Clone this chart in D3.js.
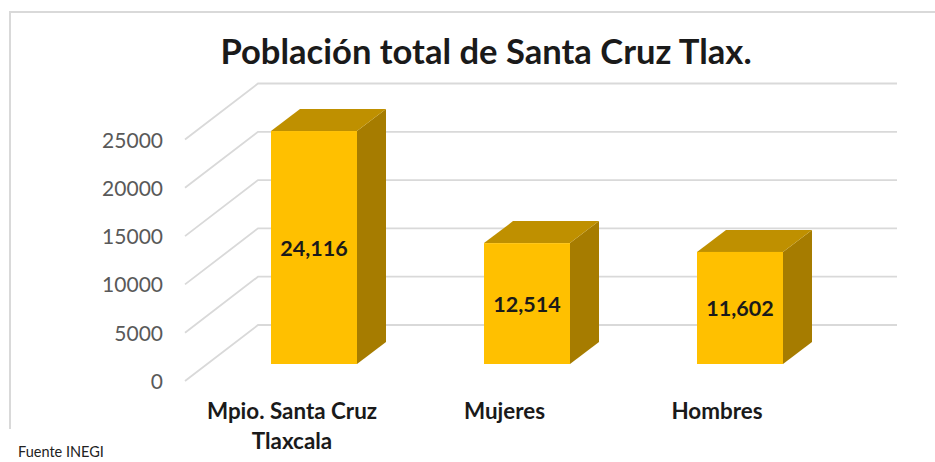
<!DOCTYPE html>
<html><head><meta charset="utf-8">
<script src="https://cdn.jsdelivr.net/npm/d3@7"></script>
<style>html,body{margin:0;padding:0;background:#fff}svg{display:block}text{font-family:Lato,"Open Sans",sans-serif}</style>
</head><body><svg id="c" width="935" height="462"></svg>
<script>
const categories = [["Mpio. Santa Cruz","Tlaxcala"],["Mujeres"],["Hombres"]];
const values = [24116,12514,11602];
const valueLabels = ["24,116","12,514","11,602"];
const ticks = [0,5000,10000,15000,20000,25000];
const titleText = "Población total de Santa Cruz Tlax.";
const sourceText = "Fuente INEGI";

const svg = d3.select("#c");
const depth = {x:73,y:-56}, frontBase = 381, left = 185, right = 824;
const y = d3.scaleLinear().domain([0,25000]).range([frontBase,frontBase-241.5]);
const x = d3.scaleBand().domain(d3.range(categories.length)).range([left,right]);
const barW = 86, barOff = {x:22.5,y:-17}, barD = {x:29,y:-22};
const grid = "#d9d9d9";

svg.append("path").attr("d","M10,429V12H935").attr("fill","none").attr("stroke",grid).attr("stroke-width",2);

const g = svg.append("g").attr("fill","none").attr("stroke",grid).attr("stroke-width",1.8);
ticks.forEach(t=>{
  const py=y(t);
  g.append("path").attr("d",`M${left},${py}L${left+depth.x},${py+depth.y}H${right+depth.x}`);
});

svg.append("g").selectAll("text").data(ticks).join("text")
  .attr("x",163).attr("y",d=>y(d)+8).attr("text-anchor","end")
  .attr("font-size",21).attr("fill","#595959").text(d=>d);

values.forEach((v,i)=>{
  const cx=x(i)+x.bandwidth()/2+barOff.x;
  const x0=cx-barW/2, x1=cx+barW/2;
  const yb=y(0)+barOff.y, yt=y(v)+barOff.y;
  svg.append("path").attr("fill","#a67c00").attr("d",`M${x1},${yb}V${yt}l${barD.x},${barD.y}V${yb+barD.y}Z`);
  svg.append("path").attr("fill","#bf9000").attr("d",`M${x0},${yt}H${x1}l${barD.x},${barD.y}H${x0+barD.x}Z`);
  svg.append("rect").attr("x",x0).attr("y",yt).attr("width",barW).attr("height",yb-yt).attr("fill","#ffc000");
  svg.append("text").attr("x",cx).attr("y",(yt+yb)/2+8).attr("text-anchor","middle")
    .attr("font-size",21.5).attr("font-weight",700).attr("fill","#1a1a1a").text(valueLabels[i]);
});

const labelX=[292,504.5,717];
categories.forEach((lines,i)=>{
  lines.forEach((l,j)=>{
    svg.append("text").attr("x",labelX[i]).attr("y",419+j*30).attr("text-anchor","middle")
      .attr("font-size",22.4).attr("font-weight",700).attr("fill","#1a1a1a").text(l);
  });
});

svg.append("text").attr("x",486).attr("y",64).attr("text-anchor","middle")
  .attr("font-size",34.6).attr("font-weight",700).attr("fill","#1a1a1a").text(titleText);
svg.append("text").attr("x",18).attr("y",457).attr("font-size",14.5).attr("fill","#222").text(sourceText);
</script></body></html>
